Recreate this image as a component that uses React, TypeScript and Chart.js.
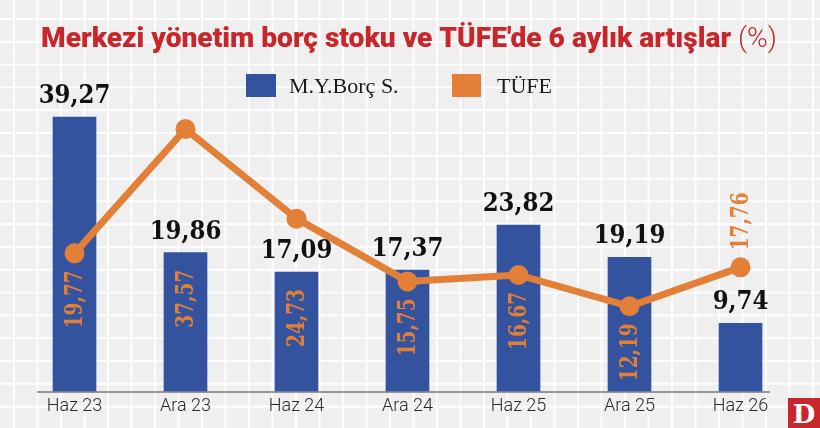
import React, { useEffect, useRef } from "react";
import { Chart, registerables } from "chart.js";

Chart.register(...registerables);

const categories = ["Haz 23", "Ara 23", "Haz 24", "Ara 24", "Haz 25", "Ara 25", "Haz 26"];
const borcValues = [39.27, 19.86, 17.09, 17.37, 23.82, 19.19, 9.74];
const tufeValues = [19.77, 37.57, 24.73, 15.75, 16.67, 12.19, 17.76];
const seriesNames = ["M.Y.Borç S.", "TÜFE"];
const titleMain = "Merkezi yönetim borç stoku ve TÜFE'de 6 aylık artışlar";
const titleUnit = "(%)";

const BLUE = "#33539e";
const ORANGE = "#e37f37";
const RED = "#c8262b";

const fmt = (v: number) => v.toFixed(2).replace(".", ",");

const overlayPlugin = {
  id: "overlay",
  beforeDatasetsDraw(chart: any) {
    const ctx = chart.ctx;
    const area = chart.chartArea;
    ctx.save();
    ctx.strokeStyle = "#7a7a7a";
    ctx.lineWidth = 1.5;
    ctx.beginPath();
    ctx.moveTo(area.left + 18, area.bottom + 0.5);
    ctx.lineTo(area.right - 26, area.bottom + 0.5);
    ctx.stroke();
    ctx.restore();
  },
  afterDatasetsDraw(chart: any) {
    const ctx = chart.ctx;
    const area = chart.chartArea;
    const barMeta = chart.getDatasetMeta(0);
    const lineMeta = chart.getDatasetMeta(1);

    // bar value labels
    ctx.save();
    ctx.fillStyle = "#111111";
    ctx.font = "bold 26px 'DejaVu Serif'";
    ctx.textAlign = "center";
    ctx.textBaseline = "alphabetic";
    barMeta.data.forEach((bar: any, i: number) => {
      ctx.save();
      ctx.translate(bar.x, bar.y - 14);
      ctx.scale(0.88, 1);
      ctx.fillText(fmt(borcValues[i]), 0, 0);
      ctx.restore();
    });
    ctx.restore();

    // rotated TÜFE labels
    ctx.save();
    ctx.fillStyle = ORANGE;
    ctx.font = "bold 25px 'DejaVu Serif'";
    ctx.textAlign = "center";
    ctx.textBaseline = "middle";
    lineMeta.data.forEach((pt: any, i: number) => {
      const bar = barMeta.data[i];
      const ref = Math.max(pt.y, bar.y);
      let cy = ref + 46;
      if (cy + 30 > area.bottom) cy = pt.y - 46;
      ctx.save();
      ctx.translate(bar.x, cy);
      ctx.rotate(-Math.PI / 2);
      ctx.scale(0.74, 1);
      ctx.fillText(fmt(tufeValues[i]), 0, 1);
      ctx.restore();
    });
    ctx.restore();
  },
  afterDraw(chart: any) {
    const ctx = chart.ctx;
    // title
    ctx.save();
    ctx.fillStyle = RED;
    ctx.textBaseline = "alphabetic";
    ctx.textAlign = "left";
    ctx.font = "900 27px Roboto";
    const w1 = ctx.measureText(titleMain + " ").width;
    ctx.font = "300 27px Roboto";
    const w2 = ctx.measureText(titleUnit).width;
    const sx = 736 / (w1 + w2);
    ctx.translate(41, 47);
    ctx.scale(sx, 1);
    ctx.font = "900 27px Roboto";
    ctx.fillText(titleMain, 0, 0);
    ctx.font = "300 27px Roboto";
    ctx.fillText(titleUnit, w1, 0);
    ctx.restore();

    // legend
    ctx.save();
    ctx.fillStyle = BLUE;
    ctx.fillRect(246, 74, 30, 23);
    ctx.fillStyle = ORANGE;
    ctx.fillRect(452, 74, 29, 23);
    ctx.fillStyle = "#1a1a1a";
    ctx.font = "22px 'Liberation Serif'";
    ctx.textBaseline = "alphabetic";
    ctx.textAlign = "left";
    ctx.fillText(seriesNames[0], 289, 93);
    ctx.fillText(seriesNames[1], 497, 93);
    ctx.restore();
  },
};

export default function App() {
  const ref = useRef<HTMLCanvasElement | null>(null);

  useEffect(() => {
    if (!ref.current) return;
    const chart = new Chart(ref.current, {
      type: "bar",
      data: {
        labels: categories,
        datasets: [
          {
            type: "bar",
            label: seriesNames[0],
            data: borcValues,
            backgroundColor: BLUE,
            barThickness: 43,
            order: 2,
          },
          {
            type: "line",
            label: seriesNames[1],
            data: tufeValues,
            borderColor: ORANGE,
            backgroundColor: ORANGE,
            borderWidth: 7,
            pointRadius: 10,
            pointBorderWidth: 0,
            pointBackgroundColor: ORANGE,
            tension: 0,
            order: 1,
          } as any,
        ],
      },
      options: {
        animation: false,
        responsive: false,
        maintainAspectRatio: false,
        layout: { padding: { left: 19, right: 24, top: 112, bottom: 7 } },
        plugins: {
          legend: { display: false },
          tooltip: { enabled: false },
          title: { display: false },
        },
        scales: {
          x: {
            grid: { display: false, drawTicks: false },
            border: { display: false },
            ticks: {
              color: "#2a2a2a",
              font: { family: "Roboto", weight: "300" as any, size: 18 },
              padding: 4,
            },
          },
          y: {
            display: false,
            min: 0,
            max: 40,
          },
        },
      },
      plugins: [overlayPlugin],
    });
    return () => chart.destroy();
  }, []);

  return (
    <div
      style={{
        position: "absolute",
        left: 0,
        top: 0,
        width: 820,
        height: 428,
        overflow: "hidden",
        backgroundColor: "#efefef",
        backgroundImage:
          "linear-gradient(to right, rgba(255,255,255,0.9) 1.5px, transparent 1.5px), linear-gradient(to bottom, rgba(255,255,255,0.9) 1.5px, transparent 1.5px)",
        backgroundSize: "23.5px 22.8px",
        backgroundPosition: "13px 18px",
      }}
    >
      <canvas ref={ref} width={820} height={428} style={{ display: "block" }} />
      <div
        style={{
          position: "absolute",
          left: 788,
          top: 398,
          width: 32,
          height: 30,
          background: RED,
          color: "#ffffff",
          fontFamily: "'DejaVu Serif', serif",
          fontWeight: "bold",
          fontSize: 26,
          lineHeight: "32px",
          textAlign: "center",
        }}
      >
        D
      </div>
    </div>
  );
}
